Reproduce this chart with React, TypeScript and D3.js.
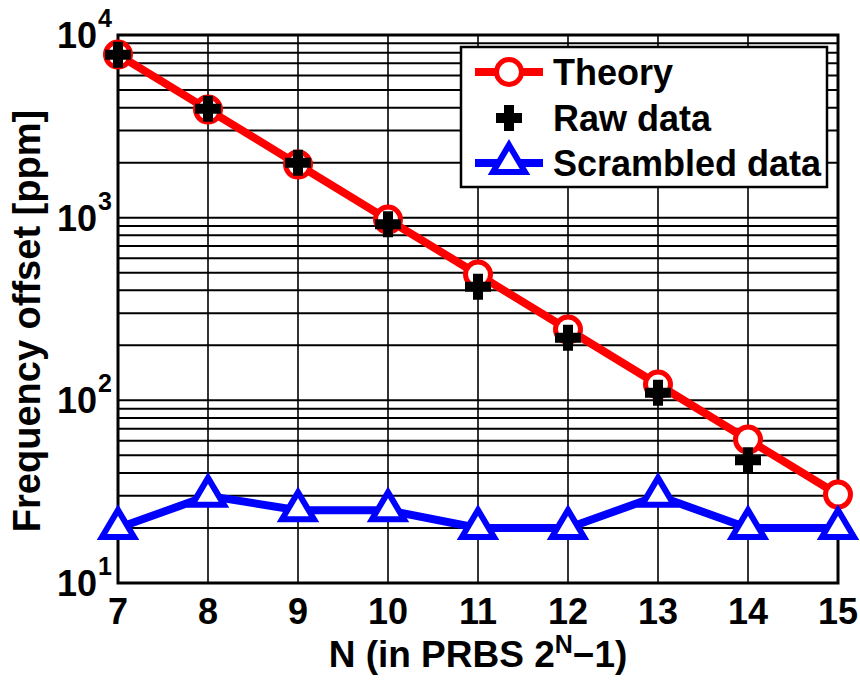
import * as d3 from 'd3'

const nValues = [7, 8, 9, 10, 11, 12, 13, 14, 15]
const theory = [7812.5, 3906.3, 1953.1, 976.6, 488.3, 244.1, 122.1, 61.0, 30.5]
const rawN = [7, 8, 9, 10, 11, 12, 13, 14]
const raw = [7800, 3950, 2000, 920, 418, 220, 110, 47]
const scrambled = [20, 30, 25, 25, 20, 20, 30, 20, 20]
const xTicks = [7, 8, 9, 10, 11, 12, 13, 14, 15]
const yTickExps = [1, 2, 3, 4]

const W = 860
const H = 681
const m = { left: 118, right: 838, top: 35, bottom: 583 }
const font = '"Liberation Sans", Arial, Helvetica, sans-serif'

const x = d3.scaleLinear().domain([7, 15]).range([m.left, m.right])
const y = d3.scaleLog().domain([10, 10000]).range([m.bottom, m.top])

const minorTicks: number[] = []
for (let e = 1; e < 4; e++) {
    for (let k = 1; k <= 9; k++) minorTicks.push(k * Math.pow(10, e))
}
minorTicks.push(10000)

const line = d3.line<[number, number]>()
    .x(d => x(d[0]))
    .y(d => y(d[1]))

const triPath = 'M0,-18 L16,9 L-16,9 Z'
const plusPath = 'M-13,0 L13,0 M0,-13 L0,13'

const Circle = ({ cx, cy }: { cx: number, cy: number }) => (
    <circle cx={cx} cy={cy} r={12.5} fill='white' stroke='#ff0000' strokeWidth={5} />
)
const Plus = ({ cx, cy }: { cx: number, cy: number }) => (
    <path d={plusPath} transform={`translate(${cx},${cy})`} stroke='black' strokeWidth={10} fill='none' />
)
const Tri = ({ cx, cy }: { cx: number, cy: number }) => (
    <path d={triPath} transform={`translate(${cx},${cy})`} stroke='#0000ff' strokeWidth={6} fill='white' strokeLinejoin='miter' />
)

const App = () => {
    const theoryPts = nValues.map((n, i) => [n, theory[i]] as [number, number])
    const scrPts = nValues.map((n, i) => [n, scrambled[i]] as [number, number])

    const lg = { x: 461, y: 47, w: 366, h: 140 }
    const rows = [72, 118, 163]

    return (
        <svg width={W} height={H} style={{ position: 'absolute', left: 0, top: 0 }} fontFamily={font} fontWeight='bold'>
            <rect width={W} height={H} fill='white' />

            {/* grid */}
            {minorTicks.map(v => (
                <line key={'h' + v} x1={m.left} x2={m.right} y1={y(v)} y2={y(v)} stroke='black' strokeWidth={2} />
            ))}
            {xTicks.map(v => (
                <line key={'v' + v} x1={x(v)} x2={x(v)} y1={m.top} y2={m.bottom} stroke='black' strokeWidth={1.6} />
            ))}

            <rect x={m.left} y={m.top} width={m.right - m.left} height={m.bottom - m.top} fill='none' stroke='black' strokeWidth={3} />

            {/* theory */}
            <path d={line(theoryPts) || ''} fill='none' stroke='#ff0000' strokeWidth={8} strokeLinejoin='round' />
            {theoryPts.map(d => <Circle key={'c' + d[0]} cx={x(d[0])} cy={y(d[1])} />)}

            {/* raw */}
            {rawN.map((n, i) => <Plus key={'p' + n} cx={x(n)} cy={y(raw[i])} />)}

            {/* scrambled */}
            <path d={line(scrPts) || ''} fill='none' stroke='#0000ff' strokeWidth={8} strokeLinejoin='round' />
            {scrPts.map(d => <Tri key={'t' + d[0]} cx={x(d[0])} cy={y(d[1])} />)}

            {/* x tick labels */}
            {xTicks.map(v => (
                <text key={'xt' + v} x={x(v)} y={624} textAnchor='middle' fontSize={36}>{v}</text>
            ))}

            {/* y tick labels */}
            {yTickExps.map(e => (
                <text key={'yt' + e} x={97} y={y(Math.pow(10, e)) + 13} textAnchor='end' fontSize={36}>10</text>
            ))}
            {yTickExps.map(e => (
                <text key={'ye' + e} x={98} y={y(Math.pow(10, e)) - 8} fontSize={25}>{e}</text>
            ))}

            {/* axis labels */}
            <text x={(m.left + m.right) / 2} y={667} textAnchor='middle' fontSize={37}>
                N (in PRBS 2<tspan dy={-14} fontSize={25}>N</tspan><tspan dy={14}>−1)</tspan>
            </text>
            <text transform={`translate(40,321) rotate(-90)`} textAnchor='middle' fontSize={38}>Frequency offset [ppm]</text>

            {/* legend */}
            <rect x={lg.x} y={lg.y} width={lg.w} height={lg.h} fill='white' stroke='black' strokeWidth={2.5} />
            <line x1={475} x2={543} y1={rows[0]} y2={rows[0]} stroke='#ff0000' strokeWidth={8} />
            <Circle cx={509} cy={rows[0]} />
            <Plus cx={509} cy={rows[1]} />
            <line x1={475} x2={543} y1={rows[2]} y2={rows[2]} stroke='#0000ff' strokeWidth={8} />
            <Tri cx={509} cy={rows[2]} />
            {['Theory', 'Raw data', 'Scrambled data'].map((t, i) => (
                <text key={t} x={553} y={rows[i] + 13} fontSize={36}>{t}</text>
            ))}
        </svg>
    )
}

export default App
